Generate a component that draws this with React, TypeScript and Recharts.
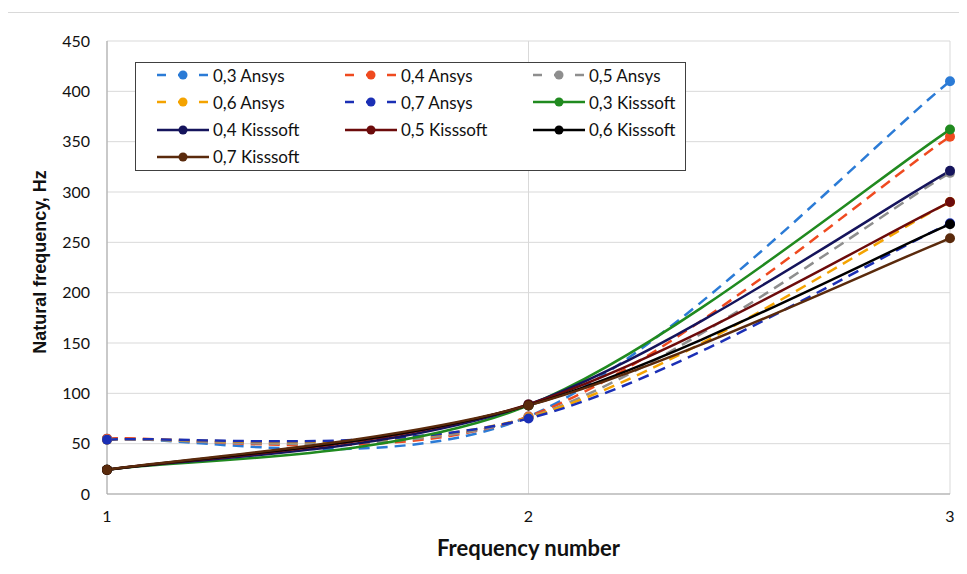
"use client";

import { CartesianGrid, Label, Legend, Line, LineChart, XAxis, YAxis } from "recharts";

// frequency number on the x axis
const frequencyNumbers = [1, 2, 3];

// natural frequency, Hz
const ansys03 = [55, 77, 410];
const ansys04 = [55, 77, 355];
const ansys05 = [54, 76, 319];
const ansys06 = [54, 76, 290];
const ansys07 = [54, 75, 269];
const kisssoft03 = [24, 88, 362];
const kisssoft04 = [24, 89, 321];
const kisssoft05 = [24, 89, 290];
const kisssoft06 = [24, 88, 268];
const kisssoft07 = [24, 88, 254];

const yTicks = [0, 50, 100, 150, 200, 250, 300, 350, 400, 450];

const series = [
  { key: "a03", name: "0,3 Ansys", values: ansys03, color: "#2b7bd6", dashed: true },
  { key: "a04", name: "0,4 Ansys", values: ansys04, color: "#ef4a1f", dashed: true },
  { key: "a05", name: "0,5 Ansys", values: ansys05, color: "#8e8e8e", dashed: true },
  { key: "a06", name: "0,6 Ansys", values: ansys06, color: "#f4a300", dashed: true },
  { key: "a07", name: "0,7 Ansys", values: ansys07, color: "#1b2fb5", dashed: true },
  { key: "k03", name: "0,3 Kisssoft", values: kisssoft03, color: "#208a1f", dashed: false },
  { key: "k04", name: "0,4 Kisssoft", values: kisssoft04, color: "#15145c", dashed: false },
  { key: "k05", name: "0,5 Kisssoft", values: kisssoft05, color: "#6c0b0b", dashed: false },
  { key: "k06", name: "0,6 Kisssoft", values: kisssoft06, color: "#000000", dashed: false },
  { key: "k07", name: "0,7 Kisssoft", values: kisssoft07, color: "#5a2a0c", dashed: false },
];

const data = frequencyNumbers.map((n, i) => {
  const row: Record<string, number> = { n };
  series.forEach((s) => {
    row[s.key] = s.values[i];
  });
  return row;
});

const FONT = "Lato, 'Open Sans', sans-serif";

// Excel-style smoothed line (Catmull-Rom through the points)
const excelSmooth = (context: any) => {
  let pts: [number, number][] = [];
  return {
    areaStart() {},
    areaEnd() {},
    lineStart() {
      pts = [];
    },
    lineEnd() {
      if (!pts.length) return;
      context.moveTo(pts[0][0], pts[0][1]);
      for (let i = 0; i < pts.length - 1; i++) {
        const p0 = pts[Math.max(i - 1, 0)];
        const p1 = pts[i];
        const p2 = pts[i + 1];
        const p3 = pts[Math.min(i + 2, pts.length - 1)];
        context.bezierCurveTo(
          p1[0] + (p2[0] - p0[0]) / 6,
          p1[1] + (p2[1] - p0[1]) / 6,
          p2[0] - (p3[0] - p1[0]) / 6,
          p2[1] - (p3[1] - p1[1]) / 6,
          p2[0],
          p2[1]
        );
      }
    },
    point(x: number, y: number) {
      pts.push([+x, +y]);
    },
  };
};

function LegendBox() {
  return (
    <div
      style={{
        position: "absolute",
        left: 135,
        top: 62,
        width: 551,
        height: 109,
        border: "1.5px solid #404040",
        background: "#fff",
        boxSizing: "border-box",
        fontFamily: FONT,
        fontSize: 17,
        color: "#111",
      }}
    >
      {series.map((s, i) => {
        const col = i % 3;
        const row = Math.floor(i / 3);
        return (
          <div
            key={s.key}
            style={{
              position: "absolute",
              left: 20 + col * 188,
              top: 1 + row * 27.3,
              height: 22,
              display: "flex",
              alignItems: "center",
              whiteSpace: "nowrap",
            }}
          >
            <svg width={54} height={12} style={{ marginRight: 3 }}>
              <line
                x1={1}
                y1={6}
                x2={53}
                y2={6}
                stroke={s.color}
                strokeWidth={2.5}
                strokeDasharray={s.dashed ? "9 12" : undefined}
              />
              <circle cx={27} cy={6} r={4.5} fill={s.color} />
            </svg>
            <span>{s.name}</span>
          </div>
        );
      })}
    </div>
  );
}

const YTitle = () => (
  <text
    x={40}
    y={262}
    transform="rotate(-90 40 262)"
    textAnchor="middle"
    dominantBaseline="central"
    fill="#111"
    fontSize={18}
    fontWeight={700}
    fontFamily="'Liberation Sans', Arial, sans-serif"
  >
    Natural frequency, Hz
  </text>
);

export default function App() {
  return (
    <div style={{ position: "relative", width: 967, height: 574, margin: -8, background: "#fff" }}>
      <div
        style={{
          position: "absolute",
          left: 7,
          top: 12,
          width: 960,
          height: 562,
          borderLeft: "1px solid #d9d9d9",
          borderTop: "1px solid #d9d9d9",
        }}
      />
      <LineChart width={967} height={574} data={data} margin={{ top: 41, right: 17, left: 0, bottom: 0 }}>
        <CartesianGrid stroke="#d9d9d9" strokeWidth={1} />
        <XAxis
          dataKey="n"
          type="number"
          domain={[1, 3]}
          ticks={frequencyNumbers}
          height={80}
          stroke="#a6a6a6"
          tickLine={false}
          tickMargin={11}
          tick={{ fill: "#111", fontSize: 16, fontFamily: FONT }}
        >
          <Label
            value="Frequency number"
            position="insideBottom"
            offset={18}
            style={{ fill: "#111", fontSize: 22, fontWeight: 700, fontFamily: FONT }}
          />
        </XAxis>
        <YAxis
          type="number"
          domain={[0, 450]}
          ticks={yTicks}
          width={107}
          stroke="#a6a6a6"
          tickLine={false}
          tickMargin={11}
          tick={{ fill: "#111", fontSize: 16, fontFamily: FONT }}
        >
          <Label content={YTitle} />
        </YAxis>
        <Legend
          layout="horizontal"
          verticalAlign="middle"
          align="center"
          content={() => <LegendBox />}
          wrapperStyle={{ position: "absolute", left: 0, top: 0, width: 0, height: 0 }}
        />
        {series.map((s) => (
          <Line
            key={s.key}
            dataKey={s.key}
            name={s.name}
            type={excelSmooth as any}
            stroke={s.color}
            strokeWidth={2.5}
            strokeDasharray={s.dashed ? "11 7" : undefined}
            dot={{ r: 5, fill: s.color, stroke: s.color, strokeWidth: 0 }}
            isAnimationActive={false}
          />
        ))}
      </LineChart>
    </div>
  );
}
